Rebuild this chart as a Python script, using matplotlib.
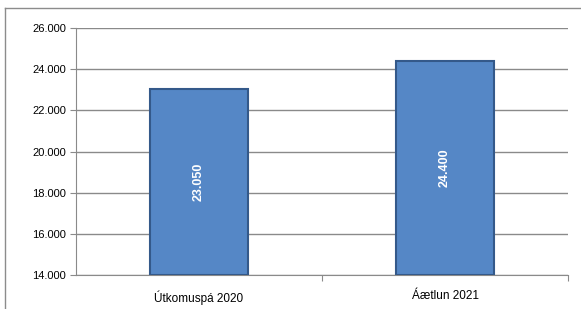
import matplotlib
matplotlib.use("Agg")
import matplotlib.pyplot as plt
from matplotlib.lines import Line2D

categories = ["Útkomuspá 2020", "Áætlun 2021"]
values = [23050, 24400]
value_labels = ["23.050", "24.400"]
y_ticks = [14000, 16000, 18000, 20000, 22000, 24000, 26000]

plt.rcParams['font.family'] = ['Liberation Sans', 'DejaVu Sans']

fig = plt.figure(figsize=(5.81, 3.09), dpi=100)
ax = fig.add_axes([76 / 581, 1 - 275 / 309, (568 - 76) / 581, (275 - 28) / 309])

# outer chart frame (only top and left edges visible)
fig.add_artist(Line2D([5 / 581, 1.0], [1 - 8 / 309, 1 - 8 / 309], transform=fig.transFigure,
                      color='#8c8c8c', linewidth=1.0))
fig.add_artist(Line2D([5 / 581, 5 / 581], [0.0, 1 - 8 / 309], transform=fig.transFigure,
                      color='#8c8c8c', linewidth=1.0))

x = range(len(categories))
bars = ax.bar(x, [v - 14000 for v in values], bottom=14000, width=0.4,
              color='#5587C6', edgecolor='#34598A', linewidth=1.5, zorder=3)

for i, b in enumerate(bars):
    ax.text(b.get_x() + b.get_width() / 2, (14000 + values[i]) / 2, value_labels[i],
            rotation=90, ha='center', va='center', color='white',
            fontsize=9, fontweight='bold', zorder=4)

ax.set_xlim(-0.5, 1.5)
ax.set_ylim(14000, 26000)
ax.set_yticks(y_ticks)
ax.set_yticklabels([f"{t:,}".replace(",", ".") for t in y_ticks], fontsize=8)
ax.yaxis.grid(True, color='#8a8a8a', linewidth=1.0, zorder=0)

ax.set_xticks([0.5, 1.5])
ax.set_xticklabels([])
ax.set_xticks(list(x), minor=True)
ax.set_xticklabels(categories, minor=True, fontsize=8.5)
ax.tick_params(axis='x', which='minor', length=0, pad=11)
ax.tick_params(axis='x', which='major', length=4, color='#8a8a8a')
ax.tick_params(axis='y', length=4, color='#8a8a8a', pad=3)

for s in ['top', 'right']:
    ax.spines[s].set_visible(False)
for s in ['left', 'bottom']:
    ax.spines[s].set_color('#8a8a8a')

fig.savefig("out.png", dpi=100)
